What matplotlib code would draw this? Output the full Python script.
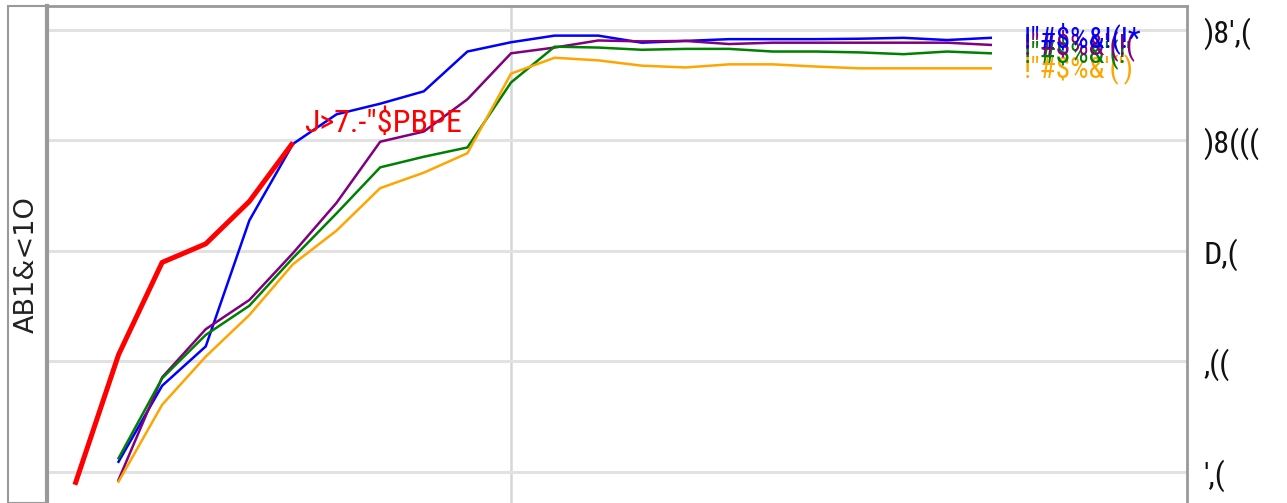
import matplotlib as mpl
mpl.use("Agg")
import matplotlib.pyplot as plt
from matplotlib.patches import Rectangle
import logging

logging.getLogger("matplotlib.font_manager").setLevel(logging.ERROR)

W, H = 1287, 503
COND = ["Roboto Condensed", "Liberation Sans Narrow", "Noto Sans", "DejaVu Sans"]

# ── data ──────────────────────────────────────────────────────────────
red_x = [0, 1, 2, 3, 4, 5]
red_y = [221, 515, 724, 766, 862, 995]

run_x = list(range(1, 22))
blue_y = [273, 445, 534, 819, 992, 1059, 1083, 1111, 1201, 1222, 1237,
          1237, 1221, 1225, 1229, 1229, 1229, 1230, 1232, 1227, 1232]
purple_y = [232, 464, 573, 639, 745, 859, 997, 1020, 1093, 1197, 1210,
            1226, 1224, 1225, 1218, 1221, 1221, 1221, 1221, 1221, 1216]
green_y = [281, 462, 560, 626, 734, 835, 939, 963, 984, 1131, 1212,
           1210, 1205, 1207, 1207, 1201, 1201, 1199, 1195, 1201, 1197]
orange_y = [228, 402, 511, 605, 720, 796, 892, 927, 971, 1151, 1187,
            1181, 1169, 1165, 1172, 1172, 1167, 1163, 1163, 1163, 1163]

series_names = ['!"#$%&!(!*', '!"#$%&\'(!(', '!"#$%&\'(!\'', '!"#$%&\'(\')']
series_colors = ["blue", "purple", "green", "orange"]
series_vals = [blue_y, purple_y, green_y, orange_y]

red_label = 'J>7.-"$PBPE'
ytick_vals = [250, 500, 750, 1000, 1250]
ytick_labels = ["',(", ",((", "D,(", ")8(((", ")8',("]
xtick_vals = [10]
ylabel_text = "AB1&<1O"

# ── figure ────────────────────────────────────────────────────────────
fig = plt.figure(figsize=(W / 100, H / 100), dpi=100)
ax_l, ax_r, ax_t, ax_b = 47, 1187, 6, 525
ax = fig.add_axes([ax_l / W, 1 - ax_b / H, (ax_r - ax_l) / W, (ax_b - ax_t) / H])

ax.set_xlim(-0.64, 25.5)
ax.set_ylim(130, 1304)

ax.set_xticks(xtick_vals)
ax.set_yticks(ytick_vals)
ax.set_yticklabels(ytick_labels, family=COND, stretch="condensed",
                   fontsize=23, color="#111111")
ax.yaxis.tick_right()
ax.tick_params(axis="y", length=0, pad=12)
ax.tick_params(axis="x", length=0, labelbottom=False)

ax.grid(axis="y", color="#e2e2e2", lw=2.2)
ax.grid(axis="x", color="#d6d6d6", lw=1.8)
ax.set_axisbelow(True)

for side, sp in ax.spines.items():
    sp.set_color("#999999")
    sp.set_linewidth(2)
ax.spines["left"].set_linewidth(3)

for col, vals in zip(series_colors, series_vals):
    ax.plot(run_x, vals, color=col, lw=1.8)

# line-end labels; blue ends up on top as in the reference
for name, col, vals in reversed(list(zip(series_names, series_colors, series_vals))):
    ax.annotate(name, (run_x[-1], vals[-1]), xytext=(33, 0),
                textcoords="offset pixels", ha="left", va="center",
                color=col, fontsize=21, family=COND, stretch="condensed")

ax.plot(red_x, red_y, color="red", lw=3.6, solid_capstyle="butt")
ax.annotate(red_label, (red_x[-1], red_y[-1]), xytext=(11, 5),
            textcoords="offset pixels", ha="left", va="bottom",
            color="red", fontsize=23, family=COND, stretch="condensed")

# y-label box on the left
fig.patches.append(Rectangle((8 / W, 0), (47 - 8) / W, 1 - 6 / H,
                             transform=fig.transFigure, fill=False,
                             edgecolor="#999999", lw=1.5))
fig.text(27 / W, 1 - 265 / H, ylabel_text, rotation=90, ha="center",
         va="center", fontsize=19.5, color="#222222", family="DejaVu Sans")

fig.savefig("out.png", dpi=100)
